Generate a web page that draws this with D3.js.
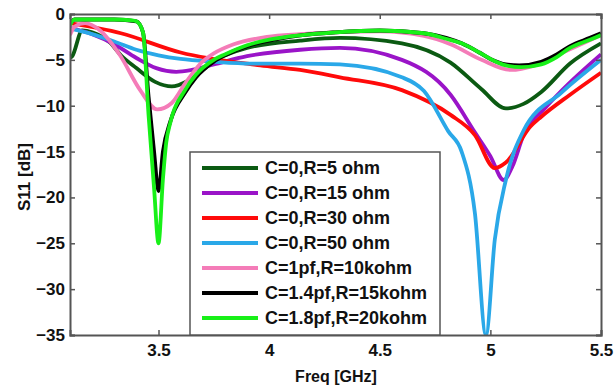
<!DOCTYPE html>
<html>
<head>
<meta charset="utf-8">
<script src="https://cdn.jsdelivr.net/npm/d3@7"></script>
<style>
  body { margin: 0; background: #fff; }
  text { font-family: "Liberation Sans", Arial, sans-serif; font-weight: bold; }
</style>
</head>
<body>
<svg id="chart" width="615" height="390"></svg>
<script>
// series names as in the legend
const seriesNames = ['C=0,R=5 ohm', 'C=0,R=15 ohm', 'C=0,R=30 ohm', 'C=0,R=50 ohm',
                     'C=1pf,R=10kohm', 'C=1.4pf,R=15kohm', 'C=1.8pf,R=20kohm'];
const seriesColors = ['#0b5a12', '#9a14c8', '#ff0a0a', '#2aa8e8', '#f47cb8', '#000000', '#18f018'];

const xTicks = [3.5, 4, 4.5, 5, 5.5];
const yTicks = [0, -5, -10, -15, -20, -25, -30, -35];

// [freq GHz, S11 dB]
const r5 = [[3.1,-4.8],[3.11,-4.6],[3.155,-1.8],[3.2,-2.0],[3.28,-3.1],[3.33,-4.5],[3.4,-5.9],[3.485,-7.4],
  [3.56,-7.9],[3.64,-7.2],[3.76,-5.0],[3.9,-3.7],[4.14,-2.9],[4.32,-2.6],[4.6,-3.2],[4.82,-5.3],[4.96,-8.2],
  [5.07,-10.3],[5.15,-9.8],[5.23,-8.5],[5.36,-5.4],[5.5,-3.2]];
const r15 = [[3.1,-1.5],[3.2,-2.2],[3.3,-3.3],[3.4,-4.8],[3.49,-5.9],[3.58,-6.3],[3.65,-6.1],[3.75,-5.5],
  [3.9,-4.6],[4.14,-3.9],[4.32,-3.7],[4.6,-5.0],[4.82,-8.8],[4.93,-12.9],[5.0,-15.5],[5.06,-18.1],[5.1,-16.6],
  [5.15,-13.2],[5.25,-10.2],[5.32,-8.4],[5.5,-4.4]];
const r30 = [[3.1,-1.0],[3.33,-2.1],[3.6,-4.2],[3.96,-5.6],[4.14,-6.1],[4.32,-6.9],[4.6,-8.3],[4.82,-11],
  [4.93,-13.2],[5.02,-16.8],[5.07,-16.2],[5.18,-12.3],[5.23,-11.2],[5.36,-8.8],[5.5,-6.4]];
const r50 = [[3.1,-1.6],[3.2,-2.2],[3.3,-3.0],[3.4,-3.9],[3.5,-4.5],[3.6,-4.9],[3.75,-5.2],[3.92,-5.4],
  [4.14,-5.4],[4.32,-5.5],[4.6,-6.9],[4.7,-8.4],[4.81,-12.8],[4.87,-15],[4.93,-21.7],[4.98,-35],[5.02,-24.6],
  [5.07,-18.1],[5.15,-12.7],[5.32,-8.6],[5.5,-5.0]];
const c1 = [[3.1,-2.3],[3.12,-1.4],[3.168,-1.0],[3.236,-1.8],[3.326,-4.5],[3.417,-8.3],[3.494,-10.4],
  [3.56,-9.7],[3.62,-7.6],[3.69,-5.4],[3.75,-4.3],[3.84,-3.3],[3.99,-2.5],[4.14,-2.2],[4.3,-2.0],[4.5,-1.9],
  [4.7,-2.4],[4.82,-3.3],[4.96,-5.0],[5.09,-6.1],[5.2,-5.6],[5.3,-4.5],[5.5,-2.3]];
const c14 = [[3.1,-1.1],[3.12,-0.6],[3.2,-0.6],[3.3,-0.6],[3.4,-0.8],[3.43,-2],[3.455,-9],[3.48,-15],
  [3.5,-19.3],[3.52,-15],[3.555,-11.6],[3.62,-8.6],[3.67,-6.9],[3.75,-5.2],[3.8,-4.5],[3.9,-3.5],[4.0,-2.9],
  [4.15,-2.3],[4.3,-2.0],[4.5,-1.8],[4.7,-2.1],[4.8,-2.6],[4.87,-3.2],[4.95,-4.2],[5.0,-4.9],[5.07,-5.5],
  [5.13,-5.6],[5.23,-5.2],[5.3,-4.4],[5.36,-3.5],[5.45,-2.6],[5.5,-2.1]];
const c18 = [[3.1,-1.2],[3.12,-0.6],[3.2,-0.6],[3.3,-0.6],[3.38,-0.7],[3.4,-0.8],[3.43,-2],[3.455,-11],
  [3.48,-19],[3.5,-25],[3.52,-18],[3.535,-14],[3.553,-11.9],[3.62,-8.3],[3.67,-6.6],[3.75,-5],[3.8,-4.4],
  [3.9,-3.4],[4.0,-2.8],[4.15,-2.3],[4.3,-2.0],[4.5,-1.8],[4.7,-2.1],[4.8,-2.7],[4.87,-3.2],[4.95,-4.2],
  [5.0,-4.9],[5.07,-5.6],[5.14,-5.8],[5.23,-5.5],[5.3,-4.7],[5.36,-3.7],[5.45,-2.8],[5.5,-2.3]];

const allSeries = [r5, r15, r30, r50, c1, c14, c18];

function main(){
    var svg = d3.select('#chart');
    var left = 70, right = 601, top = 14, bottom = 335;

    var xScale = d3.scaleLinear().domain([3.1, 5.5]).range([left, right]);
    var yScale = d3.scaleLinear().domain([-35, 0]).range([bottom, top]);

    // curves
    var line = d3.line()
        .x(function(d){ return xScale(d[0]); })
        .y(function(d){ return yScale(d[1]); })
        .curve(d3.curveMonotoneX);

    var clip = svg.append('clipPath').attr('id', 'plotclip');
    clip.append('rect').attr('x', left).attr('y', top - 2)
        .attr('width', right - left).attr('height', bottom - top + 2);

    svg.append('g').attr('clip-path', 'url(#plotclip)')
        .selectAll('path')
        .data(allSeries)
        .enter().append('path')
        .attr('d', line)
        .attr('fill', 'none')
        .attr('stroke', function(d, i){ return seriesColors[i]; })
        .attr('stroke-width', 3.8)
        .attr('stroke-linejoin', 'round');

    // axes, ticks pointing inward like matlab
    var axisColor = '#555';
    var xAx = svg.append('g').attr('transform', 'translate(0,' + bottom + ')')
        .call(d3.axisBottom(xScale).tickValues(xTicks).tickSize(-5).tickPadding(9).tickFormat(d3.format('')));
    var xTop = svg.append('g').attr('transform', 'translate(0,' + top + ')')
        .call(d3.axisTop(xScale).tickValues(xTicks).tickSize(-5).tickFormat(''));
    var yAx = svg.append('g').attr('transform', 'translate(' + left + ',0)')
        .call(d3.axisLeft(yScale).tickValues(yTicks).tickSize(-5).tickPadding(5));
    var yRight = svg.append('g').attr('transform', 'translate(' + right + ',0)')
        .call(d3.axisRight(yScale).tickValues(yTicks).tickSize(-5).tickFormat(''));

    [xAx, xTop, yAx, yRight].forEach(function(a){
        a.select('.domain').attr('stroke', axisColor).attr('stroke-width', 2);
        a.selectAll('.tick line').attr('stroke', axisColor).attr('stroke-width', 1.5);
        a.selectAll('.tick text').attr('fill', '#111').attr('font-size', '17px')
            .attr('font-family', '"Liberation Sans", Arial, sans-serif').attr('font-weight', 'bold');
    });

    // axis titles
    svg.append('text')
        .attr('x', 336)
        .attr('y', 382)
        .attr('text-anchor', 'middle')
        .attr('font-size', '16px')
        .attr('fill', '#111')
        .text('Freq [GHz]');
    svg.append('text')
        .attr('transform', 'translate(30,177) rotate(-90)')
        .attr('text-anchor', 'middle')
        .attr('font-size', '17px')
        .attr('fill', '#111')
        .text('S11 [dB]');

    // legend
    var lg = svg.append('g');
    lg.append('rect')
        .attr('x', 190).attr('y', 152)
        .attr('width', 250).attr('height', bottom - 152)
        .attr('fill', '#fff')
        .attr('stroke', axisColor)
        .attr('stroke-width', 1.5);

    var rows = lg.selectAll('.row')
        .data(seriesNames)
        .enter().append('g')
        .attr('class', 'row')
        .attr('transform', function(d, i){ return 'translate(0,' + (168 + i * 25) + ')'; });
    rows.append('line')
        .attr('x1', 202).attr('x2', 258)
        .attr('y1', 0).attr('y2', 0)
        .attr('stroke', function(d, i){ return seriesColors[i]; })
        .attr('stroke-width', 3.8);
    rows.append('text')
        .attr('x', 265).attr('y', 6)
        .attr('font-size', '18px')
        .attr('fill', '#111')
        .text(function(d){ return d; });
}
main();
</script>
</body>
</html>
